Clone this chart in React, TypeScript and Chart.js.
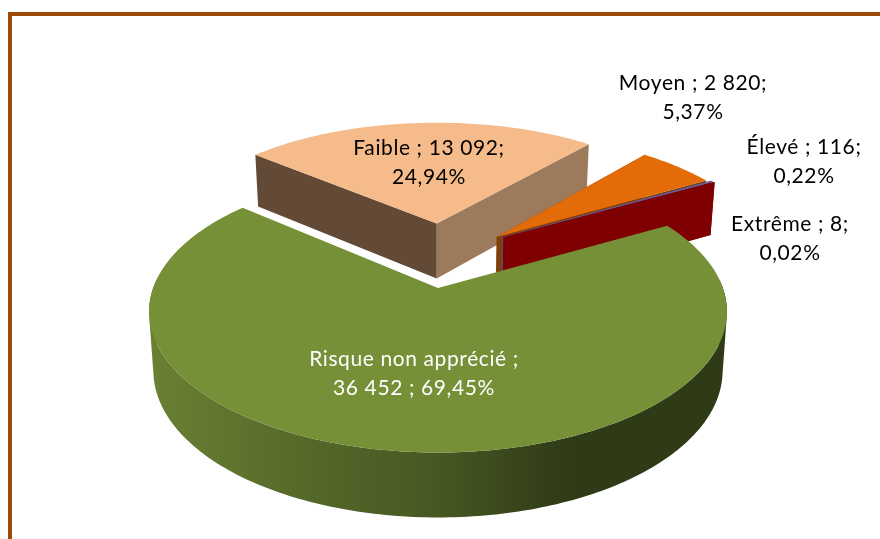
import React, { useEffect, useRef } from "react";
import { Chart, registerables } from "chart.js";

Chart.register(...registerables);

const categories = ["Risque non apprécié", "Faible", "Moyen", "Élevé", "Extrême"];
const values = [36452, 13092, 2820, 116, 8];
const labelLines = [
  ["Risque non apprécié ;", "36 452 ; 69,45%"],
  ["Faible ; 13 092;", "24,94%"],
  ["Moyen ; 2 820;", "5,37%"],
  ["Élevé ; 116;", "0,22%"],
  ["Extrême ; 8;", "0,02%"],
];
const topColors = ["#769037", "#F6BB8A", "#E36C09", "#6F5A9A", "#7F0000"];
const startWallColors = ["#5f7430", "#634A37", "#7F3F05", "#5F497A", "#7F0000"];
const endWallColors = ["#5f7430", "#9E7A5C", "#7F3F05", "#5F497A", "#7F0000"];
const labelColors = ["#FFFFFF", "#000000", "#000000", "#000000", "#000000"];
const explodeX = [0, -0.005, 0.22, 0.24, 0.245];
const explodeY = [0, 0.51, 0.397, 0.396, 0.395];
const labelCentersX = [414, 429, 693, 804, 790];
const labelCentersY = [359, 148, 83, 147, 224];
const drawOrder = [1, 2, 3, 4, 0];

const squashX = 1.135;
const squashY = 0.546;
const perspective = 0.167;
const depth = 0.231;
const depthPerspective = 0.107;
const bottomShrink = 0.985;

const pie3d = {
  id: "pie3d",
  beforeDatasetsDraw(chart: any) {
    const ctx = chart.ctx as CanvasRenderingContext2D;
    const arcs = chart.getDatasetMeta(0).data;
    for (const i of drawOrder) {
      const a = arcs[i].getProps(["x", "y", "startAngle", "endAngle", "outerRadius"], true);
      const r = a.outerRadius;
      const ox = explodeX[i];
      const oy = explodeY[i];
      const top = (X: number, Y: number) => {
        const w = 1 / (1 + perspective * Y);
        return [a.x + r * squashX * X * w, a.y - r * squashY * Y * w];
      };
      const bottom = (X: number, Y: number) => {
        const w = 1 / (1 + perspective * Y);
        return [
          a.x + bottomShrink * r * squashX * X * w,
          a.y - r * squashY * Y * w + (r * depth) / (1 + depthPerspective * Y),
        ];
      };
      const rim = (ang: number): [number, number] => [Math.cos(ang) + ox, -Math.sin(ang) + oy];
      const poly = (pts: number[][], fill: string | CanvasGradient) => {
        ctx.beginPath();
        pts.forEach((p, k) => (k ? ctx.lineTo(p[0], p[1]) : ctx.moveTo(p[0], p[1])));
        ctx.closePath();
        ctx.fillStyle = fill;
        ctx.fill();
      };
      const steps = Math.max(2, Math.ceil(((a.endAngle - a.startAngle) * 180) / Math.PI));
      const angs: number[] = [];
      for (let s = 0; s <= steps; s++) angs.push(a.startAngle + ((a.endAngle - a.startAngle) * s) / steps);

      const wall = (ang: number, color: string) => {
        const [X, Y] = rim(ang);
        poly([top(ox, oy), top(X, Y), bottom(X, Y), bottom(ox, oy)], color);
      };

      if (i === 0) {
        const g = ctx.createLinearGradient(150, 0, 570, 0);
        g.addColorStop(0, "#6A8033");
        g.addColorStop(0.35, "#566A2A");
        g.addColorStop(0.7, "#465622");
        g.addColorStop(1, "#2F3A17");
        ctx.beginPath();
        for (let s = 0; s < angs.length - 1; s++) {
          const p = rim(angs[s]);
          const q = rim(angs[s + 1]);
          if (p[1] > 0.05 && q[1] > 0.05) continue;
          const quad = [top(...p), top(...q), bottom(...q), bottom(...p)];
          let area = 0;
          quad.forEach((c, k) => {
            const d = quad[(k + 1) % 4];
            area += c[0] * d[1] - d[0] * c[1];
          });
          if (area < 0) quad.reverse();
          quad.forEach((c, k) => (k ? ctx.lineTo(c[0], c[1]) : ctx.moveTo(c[0], c[1])));
          ctx.closePath();
        }
        ctx.fillStyle = g;
        ctx.fill("nonzero");
      } else {
        wall(a.endAngle, endWallColors[i]);
        wall(a.startAngle, startWallColors[i]);
      }
      poly([top(ox, oy), ...angs.map((t) => top(...rim(t)))], topColors[i]);
    }
    return false;
  },
  afterDraw(chart: any) {
    const ctx = chart.ctx as CanvasRenderingContext2D;
    ctx.save();
    ctx.font = '21px Lato, "Open Sans", sans-serif';
    (ctx as any).letterSpacing = "0.6px";
    ctx.textAlign = "center";
    ctx.textBaseline = "middle";
    labelLines.forEach((lines, i) => {
      ctx.fillStyle = labelColors[i];
      lines.forEach((t, k) => ctx.fillText(t, labelCentersX[i], labelCentersY[i] + k * 29));
    });
    ctx.restore();
  },
};

export default function App() {
  const ref = useRef<HTMLCanvasElement>(null);
  useEffect(() => {
    const chart = new Chart(ref.current!, {
      type: "pie",
      data: {
        labels: categories,
        datasets: [{ data: values, backgroundColor: topColors, borderWidth: 0 }],
      },
      options: {
        responsive: false,
        animation: false,
        rotation: 60.5,
        layout: { padding: { left: 0, right: 4, top: 37, bottom: 0 } },
        plugins: { legend: { display: false }, tooltip: { enabled: false } },
      },
      plugins: [pie3d],
    } as any);
    return () => chart.destroy();
  }, []);
  return (
    <div style={{ position: "absolute", left: 0, top: 0, width: 880, height: 539, overflow: "hidden", background: "#fff" }}>
      <canvas ref={ref} width={880} height={539} style={{ display: "block", position: "absolute", left: 0, top: 0 }} />
      <div
        style={{
          position: "absolute",
          left: 8,
          top: 12,
          width: 872,
          height: 527,
          boxSizing: "border-box",
          borderTop: "4px solid #9C4A09",
          borderLeft: "4px solid #9C4A09",
        }}
      />
    </div>
  );
}
